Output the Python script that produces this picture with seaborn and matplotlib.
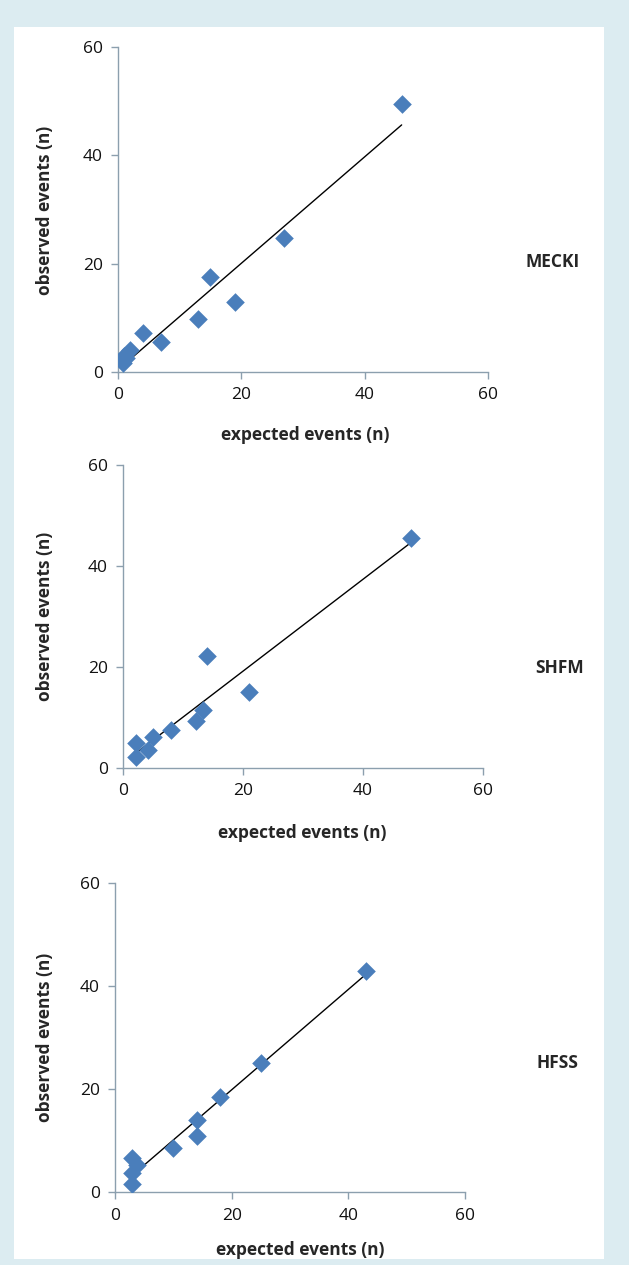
import numpy as np
import pandas as pd
import matplotlib
matplotlib.use("Agg")
import matplotlib.pyplot as plt
import seaborn as sns
from matplotlib.patches import Rectangle

mecki_exp = [46, 27, 15, 19, 13, 7, 4, 2, 1, 0.8, 1.3]
mecki_obs = [49.5, 24.8, 17.5, 13, 9.8, 5.5, 7.2, 4, 3, 1.6, 2.5]

shfm_exp = [48, 14, 21, 13.3, 12.2, 8, 5, 4.2, 2.2, 2.2]
shfm_obs = [45.6, 22.2, 15.1, 11.5, 9.3, 7.5, 6.2, 3.6, 4.9, 2.2]

hfss_exp = [43, 25, 18, 14, 14, 10, 3, 3.8, 3, 3]
hfss_obs = [43, 25.2, 18.5, 14, 11, 8.5, 6.6, 5.3, 3.7, 1.6]

names = ["MECKI", "SHFM", "HFSS"]
ticks = [0, 20, 40, 60]

sns.set_theme(style="white")
plt.rcParams["font.family"] = ["Open Sans", "DejaVu Sans"]

fig = plt.figure(figsize=(6.29, 12.65), dpi=100)
fig.patch.set_facecolor("#dcecf1")
fig.patches.append(Rectangle((14 / 629, 0.005), 590 / 629, 1 - 27 / 1265 - 0.005,
                             transform=fig.transFigure, facecolor="white",
                             edgecolor="none", zorder=-10))

# posições dos painéis (left, bottom, width, height)
boxes = [
    (0.1876, 0.7059, 0.5882, 0.2569),
    (0.1955, 0.3929, 0.5724, 0.2395),
    (0.1828, 0.0575, 0.5565, 0.2442),
]
ylab_y = [0.834, 0.513, 0.180]
xlab = [(0.485, 0.6561), (0.48, 0.3415), (0.477, 0.0119)]
name_pos = [(0.879, 0.793), (0.890, 0.472), (0.886, 0.160)]
data = [(mecki_exp, mecki_obs), (shfm_exp, shfm_obs), (hfss_exp, hfss_obs)]

for i, (ex, ob) in enumerate(data):
    ax = fig.add_axes(boxes[i])
    df = pd.DataFrame({"expected": ex, "observed": ob})
    sns.regplot(data=df, x="expected", y="observed", ax=ax, ci=None,
                marker="D", color="#4a7ebb",
                scatter_kws={"s": 90, "alpha": 1, "linewidths": 0, "zorder": 3},
                line_kws={"color": "black", "linewidth": 1, "zorder": 2})
    ax.set_xlim(0, 60)
    ax.set_ylim(0, 60)
    ax.set_xticks(ticks)
    ax.set_yticks(ticks)
    ax.set_facecolor("none")
    sns.despine(ax=ax)
    for s in ["left", "bottom"]:
        ax.spines[s].set_color("#8c9fae")
        ax.spines[s].set_linewidth(1)
    ax.tick_params(axis="both", length=5, width=1, color="#8c9fae",
                   labelsize=12.5, labelcolor="#111111", direction="out",
                   left=True, bottom=True, pad=6)
    ax.set_xlabel("")
    ax.set_ylabel("")
    fig.text(0.072, ylab_y[i], "observed events (n)", rotation=90,
             ha="center", va="center", fontsize=12.5, fontweight="bold")
    fig.text(xlab[i][0], xlab[i][1], "expected events (n)",
             ha="center", va="center", fontsize=12.5, fontweight="bold")
    fig.text(name_pos[i][0], name_pos[i][1], names[i],
             ha="center", va="center", fontsize=12.5, fontweight="bold")

fig.savefig("out.png", dpi=100, facecolor=fig.get_facecolor())
